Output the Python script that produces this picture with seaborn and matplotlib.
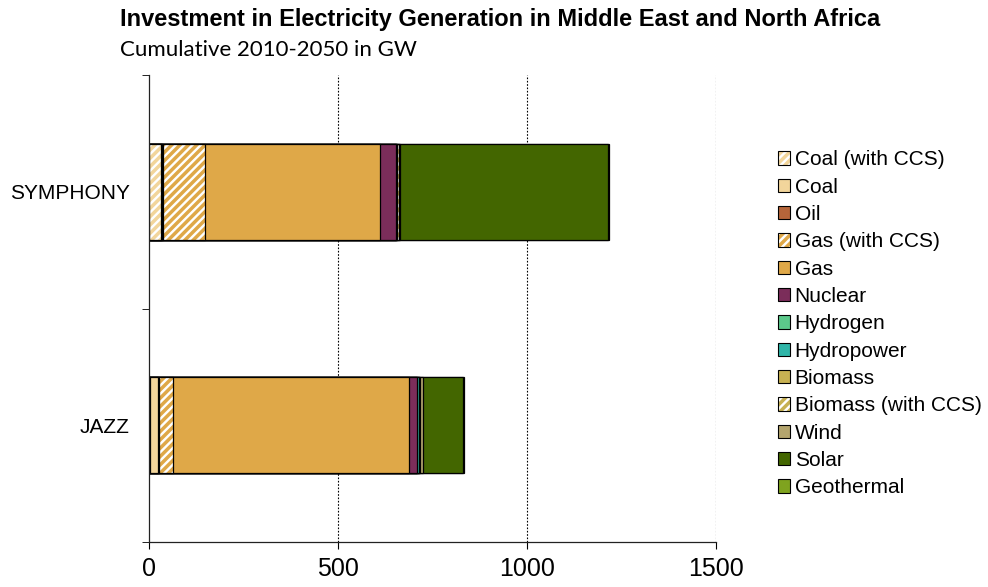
import seaborn as sns
import matplotlib.pyplot as plt
import pandas as pd
import numpy as np
from matplotlib.patches import Patch
from matplotlib.legend_handler import HandlerTuple

# data (GW, cumulative 2010-2050)
scenarios = ["SYMPHONY", "JAZZ"]
sources = ["Coal (with CCS)", "Coal", "Oil", "Gas (with CCS)", "Gas", "Nuclear",
           "Hydrogen", "Hydropower", "Biomass", "Biomass (with CCS)", "Wind",
           "Solar", "Geothermal"]
symphony = [32, 3, 2, 111, 463, 42, 0, 2, 2, 4, 2, 550, 3]
jazz = [3, 20, 3, 37, 625, 20, 2, 3, 2, 3, 8, 105, 3]

colors = ["#F2D59B", "#F2D59B", "#B5653A", "#DFA848", "#DFA848", "#7B2D5A",
          "#5CC98B", "#2FB5A8", "#C7B152", "#C7B152", "#B4A56E", "#436600", "#7FA31F"]
hatched = [True, False, False, True, False, False, False, False, False, True,
           False, False, False]

sns.set_style("white")
plt.rcParams['hatch.linewidth'] = 2.5
plt.rcParams['text.color'] = 'black'
plt.rcParams['xtick.color'] = 'black'
plt.rcParams['ytick.color'] = 'black'
plt.rcParams['font.family'] = ['Liberation Sans', 'DejaVu Sans']

fig = plt.figure(figsize=(9.88, 5.87), dpi=100)
ax = fig.add_axes([0.1508, 0.0767, 0.574, 0.7953])

vals = np.array([symphony, jazz], dtype=float)
cum = vals.cumsum(axis=1)

# stacked bars: draw cumulative totals from the outside in
for i in range(len(sources) - 1, -1, -1):
    df = pd.DataFrame({"scenario": scenarios, "total": cum[:, i]})
    n0 = len(ax.patches)
    sns.barplot(data=df, x="total", y="scenario", orient="h", order=scenarios,
                color=colors[i], width=0.41, ax=ax, edgecolor="black",
                linewidth=0.9, saturation=1)
    if hatched[i]:
        for p in ax.patches[n0:]:
            p.set_facecolor("white")
            p.set_edgecolor(colors[i])
            p.set_hatch("////")
            p.set_linewidth(0)
        sns.barplot(data=df, x="total", y="scenario", orient="h", order=scenarios,
                    fill=False, width=0.41, ax=ax, edgecolor="black",
                    linewidth=0.9)

ax.set_xlim(0, 1500)
ax.set_ylim(1.5, -0.5)
ax.set_xticks([0, 500, 1000, 1500])
ax.tick_params(axis="x", labelsize=18, length=5, direction="out", bottom=True, pad=6)
ax.set_yticks([-0.5, 0.5, 1.5], minor=True)
ax.tick_params(axis="y", which="minor", length=5, left=True)
ax.tick_params(axis="y", which="major", length=0, labelsize=15, pad=14)
ax.set_xlabel("")
ax.set_ylabel("")
for x in [500, 1000, 1500]:
    ax.axvline(x, color="black", linestyle=(0, (1.5, 1.5)), linewidth=0.8, zorder=0)
sns.despine(ax=ax, top=True, right=True)
for s in ["left", "bottom"]:
    ax.spines[s].set_color("#222222")
    ax.spines[s].set_linewidth(0.9)

handles = []
for c, h, name in zip(colors, hatched, sources):
    if h:
        handles.append((Patch(facecolor="white", edgecolor=c, hatch="////", linewidth=0),
                        Patch(facecolor="none", edgecolor="black", linewidth=0.8)))
    else:
        handles.append(Patch(facecolor=c, edgecolor="black", linewidth=0.8))
leg = fig.legend(handles=handles, labels=sources, loc="upper left",
                 bbox_to_anchor=(0.779, 0.758), frameon=False, fontsize=15,
                 handlelength=0.6, handleheight=0.6, handletextpad=0.2,
                 labelspacing=0.4, borderaxespad=0,
                 handler_map={tuple: HandlerTuple(ndivide=1)})

fig.text(0.121, 0.966, "Investment in Electricity Generation in Middle East and North Africa",
         fontsize=17, fontweight="bold", va="center", ha="left")
fig.text(0.121, 0.914, "Cumulative 2010-2050 in GW", fontsize=16,
         family=["Lato", "DejaVu Sans"], va="center", ha="left")

fig.savefig("out.png", dpi=100)
